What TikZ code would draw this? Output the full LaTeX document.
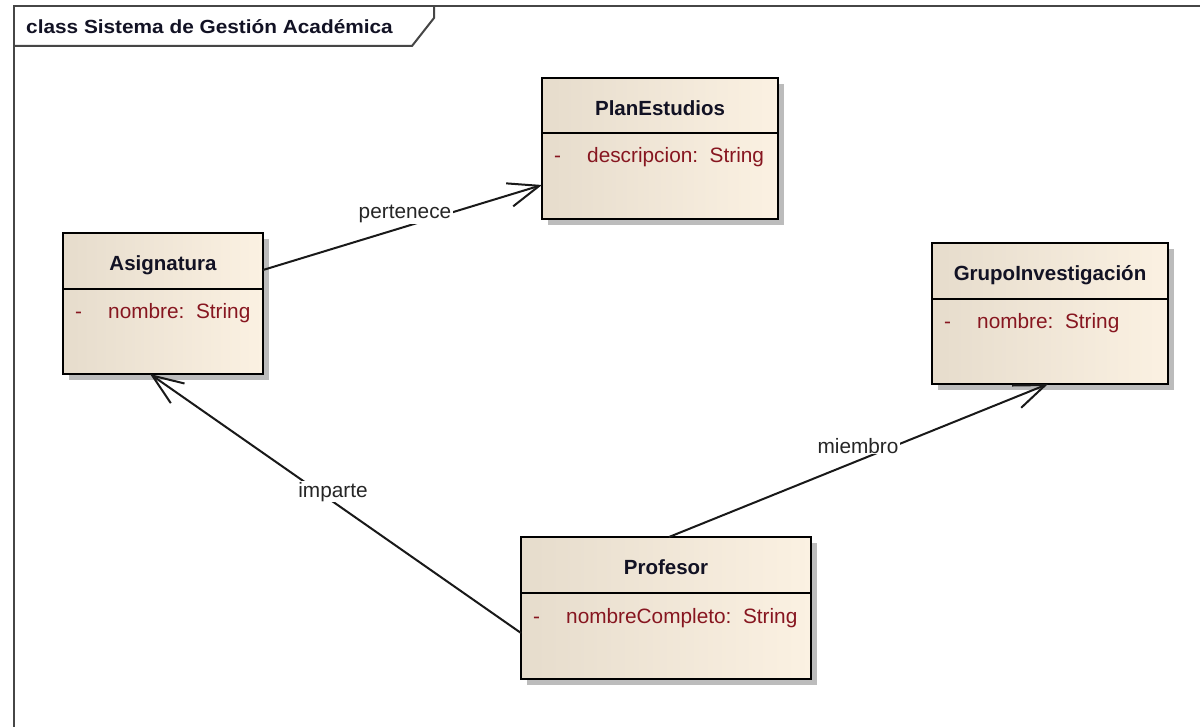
\documentclass[tikz,border=0pt]{standalone}
\usepackage{fontspec}
\setmainfont{Liberation Sans}
\usetikzlibrary{arrows.meta,shadows}

\definecolor{clsL}{RGB}{230,220,204}
\definecolor{clsR}{RGB}{251,241,226}
\definecolor{shadowgray}{RGB}{188,188,188}
\definecolor{titlecol}{RGB}{18,18,36}
\definecolor{attrcol}{RGB}{135,22,32}
\definecolor{framecol}{RGB}{70,70,70}

\tikzset{
  classbox/.style={draw=black, line width=2pt, left color=clsL, right color=clsR,
    inner sep=0pt, outer sep=0pt, anchor=north west,
    drop shadow={shadow xshift=6pt, shadow yshift=-6pt, fill=shadowgray, opacity=1}},
  clstitle/.style={font=\fontsize{20.5}{24}\bfseries\selectfont, text=titlecol, anchor=base, inner sep=0pt},
  attrtxt/.style={font=\fontsize{20.8}{24}\selectfont, text=attrcol, anchor=base west, inner sep=0pt},
  assoc/.style={line width=2pt, draw=black!90, -{Straight Barb[length=31pt,width=24pt]}},
  assoclabel/.style={font=\fontsize{20.8}{24}\selectfont, text=black!85, fill=white,
    anchor=base, inner xsep=2pt, inner ysep=1pt},
  framestyle/.style={line width=2.5pt, draw=framecol},
}

% \umlclass{name}{left}{top}{width}{height}{header height}{class name}{attribute}
\newcommand{\umlclass}[8]{%
  \node[classbox, minimum width=#4pt, minimum height=#5pt] (#1) at (#2,-#3) {};
  \draw[line width=1.8pt] ([yshift=-#6pt]#1.north west) -- ([yshift=-#6pt]#1.north east);
  \node[clstitle] (#1-title) at ([yshift=-37.5pt]#1.north) {#7};
  \node[attrtxt] (#1-vis) at ([xshift=12pt, yshift={-(#6+30)*1pt}]#1.north west) {-};
  \node[attrtxt] (#1-attr) at ([xshift=45pt, yshift={-(#6+30)*1pt}]#1.north west) {#8};
}

\begin{document}
\begin{tikzpicture}[x=1pt, y=1pt]
  \useasboundingbox (0,0) rectangle (1200,-727);
  \fill[white] (0,0) rectangle (1200,-727);

  % diagram frame with its name tab
  \coordinate (fbl) at (14,-728);
  \coordinate (ftl) at (14,-6);
  \coordinate (ftr) at (1201,-6);
  \draw[framestyle] (fbl) -- (ftl) -- (ftr);
  \coordinate (tab1) at (14,-46);
  \coordinate (tab2) at (412,-46);
  \coordinate (tab3) at (434,-18);
  \coordinate (tab4) at (434,-6);
  \draw[line width=2pt, draw=framecol] (tab1) -- (tab2) -- (tab3) -- (tab4);
  \node[font=\fontsize{19}{22}\bfseries\selectfont, text=titlecol, anchor=base west, inner sep=0pt]
    (frametitle) at (26,-34) {\scalebox{1.095}[1]{class Sistema de Gestión Académica}};

  % classes
  \umlclass{plan}{542}{78}{236}{141}{55}{PlanEstudios}{descripcion:\ \ String}
  \umlclass{asig}{63}{233}{200}{141}{56}{Asignatura}{nombre:\ \ String}
  \umlclass{grupo}{932}{243}{236}{141}{56}{GrupoInvestigación}{nombre:\ \ String}
  \umlclass{prof}{521}{537}{290}{142}{56}{Profesor}{nombreCompleto:\ \ String}

  % associations
  \draw[assoc] ([yshift=-37pt]asig.north east) -- ([yshift=-107pt]plan.north west);
  \draw[assoc] ([yshift=-96pt]prof.north west) -- ([xshift=87pt]asig.south west);
  \draw[assoc] ([xshift=148pt]prof.north west) -- ([xshift=116pt]grupo.south west);

  \node[assoclabel] (lbl-pertenece) at (405,-219) {pertenece};
  \node[assoclabel] (lbl-imparte) at (333,-497) {imparte};
  \node[assoclabel] (lbl-miembro) at (858,-453) {miembro};
\end{tikzpicture}
\end{document}
